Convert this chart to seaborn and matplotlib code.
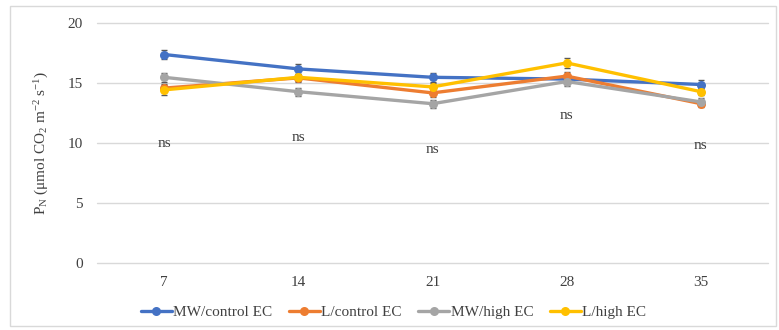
import matplotlib
matplotlib.use("Agg")
import matplotlib.pyplot as plt
import seaborn as sns
import pandas as pd
import numpy as np

days = [7, 14, 21, 28, 35]
series = ["MW/control EC", "L/control EC", "MW/high EC", "L/high EC"]
mw_control = [17.4, 16.2, 15.5, 15.35, 14.9]
l_control = [14.6, 15.45, 14.2, 15.6, 13.3]
mw_high = [15.5, 14.3, 13.3, 15.15, 13.45]
l_high = [14.45, 15.5, 14.7, 16.7, 14.3]
mw_control_err = [0.4, 0.45, 0.4, 0.35, 0.35]
l_control_err = [0.35, 0.35, 0.35, 0.35, 0.3]
mw_high_err = [0.4, 0.35, 0.35, 0.35, 0.3]
l_high_err = [0.45, 0.3, 0.35, 0.4, 0.3]
ns_y = [9.95, 10.5, 9.45, 12.35, 9.8]
ns_text = ["ns", "ns", "ns", "ns", "ns"]

colors = ["#4472C4", "#ED7D31", "#A5A5A5", "#FFC000"]
values = [mw_control, l_control, mw_high, l_high]
errors = [mw_control_err, l_control_err, mw_high_err, l_high_err]

df = pd.DataFrame({
    "day": days * len(series),
    "value": sum(values, []),
    "series": np.repeat(series, len(days)),
})

sns.set_theme(style="white")
plt.rcParams["font.family"] = ["Liberation Serif", "DejaVu Serif"]
plt.rcParams["mathtext.fontset"] = "custom"
plt.rcParams["mathtext.rm"] = "Liberation Serif"
plt.rcParams["mathtext.it"] = "Liberation Serif:italic"

FS = 11
TXT = "#404040"

fig = plt.figure(figsize=(7.79, 3.30), dpi=100)
ax = fig.add_axes([97 / 779, (330 - 263.3) / 330, (768 - 97) / 779, (263.3 - 23.3) / 330])

for v, e, c in zip(values, errors, colors):
    ax.errorbar(days, v, yerr=e, fmt="none", ecolor="#595959", elinewidth=1.0,
                capsize=2.5, capthick=1.0, zorder=3)

sns.lineplot(data=df, x="day", y="value", hue="series", hue_order=series,
             palette=colors, marker="o", markersize=6.5, markeredgewidth=0,
             linewidth=2.4, ax=ax, zorder=4, legend=True)

for x, y, t in zip(days, ns_y, ns_text):
    ax.text(x, y, t, ha="center", va="center", fontsize=FS, color=TXT)

ax.set_xlim(3.5, 38.5)
ax.set_ylim(0, 20)
ax.set_xticks(days)
ax.set_yticks([0, 5, 10, 15, 20])
ax.tick_params(axis="both", length=0, labelsize=FS, labelcolor=TXT)
ax.tick_params(axis="x", pad=9)
ax.tick_params(axis="y", pad=10)
ax.yaxis.grid(True, color="#D9D9D9", linewidth=1.0)
for gl in ax.get_ygridlines():
    gl.set_clip_on(False)
ax.set_axisbelow(True)
for s in ax.spines.values():
    s.set_visible(False)
ax.set_xlabel("")
ax.set_ylabel(r"P$_{\mathrm{N}}$ ($\mathrm{\mu}$mol CO$_2$ m$^{-2}$ s$^{-1}$)",
              fontsize=FS, color=TXT, labelpad=12)

handles, labels = ax.get_legend_handles_labels()
ax.legend(handles, labels, loc="center", bbox_to_anchor=(0.442, -0.205),
          ncol=4, frameon=False, fontsize=FS, handlelength=2.0,
          columnspacing=1.1, handletextpad=0.1, labelcolor=TXT)

# chart area border
fig.patches.append(plt.Rectangle((10 / 779, 4 / 330), 766 / 779, 320 / 330,
                                 transform=fig.transFigure, fill=False,
                                 edgecolor="#D9D9D9", linewidth=1.0))

fig.savefig("out.png", dpi=100)
